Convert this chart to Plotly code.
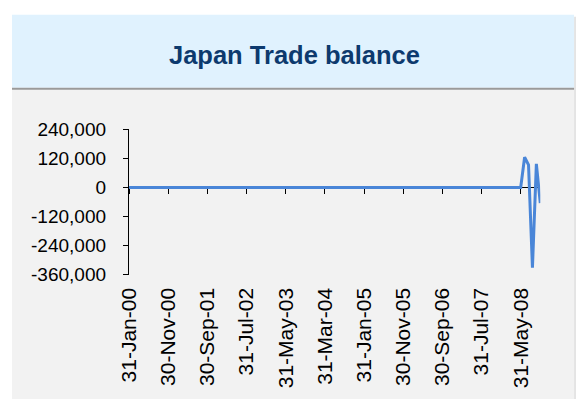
import plotly.graph_objects as go
import pandas as pd

# Categories: month-end dates Jan-2000 .. Oct-2008
months = [d.strftime("%d-%b-%y") for d in pd.date_range("2000-01-31", "2008-10-31", freq="ME")]

# Trade balance values (zeros until May-08, then readings)
values = [0] * 101 + [124600, 93200, -331400, 97100, -64100]

tick_labels = ["31-Jan-00", "30-Nov-00", "30-Sep-01", "31-Jul-02", "31-May-03",
               "31-Mar-04", "31-Jan-05", "30-Nov-05", "30-Sep-06", "31-Jul-07", "31-May-08"]
y_ticks = [240000, 120000, 0, -120000, -240000, -360000]
y_tick_text = ["240,000", "120,000", "0", "-120,000", "-240,000", "-360,000"]

W, H = 577, 410
def py(p):
    return 1 - p / H
def px(p):
    return p / W

x_dom = [px(119.5), px(539.5)]
y_dom = [py(279), py(125.7)]
y_range = [-360000, 240000]
zero_pos = y_dom[0] + (0 - y_range[0]) / (y_range[1] - y_range[0]) * (y_dom[1] - y_dom[0])

fig = go.Figure()
# invisible trace to populate the label axis
fig.add_trace(go.Scatter(x=months, y=values, mode="lines", line=dict(width=0, color="rgba(0,0,0,0)"),
                         hoverinfo="skip", showlegend=False, xaxis="x", yaxis="y"))
fig.add_trace(go.Scatter(x=months, y=values, mode="lines", line=dict(color="#4A86D8", width=3),
                         showlegend=False, xaxis="x2", yaxis="y"))

fam = "Arial, Liberation Sans, sans-serif"
yfont = dict(family=fam, size=19, color="#000000")
xfont = dict(family=fam, size=21, color="#000000")

fig.update_layout(
    width=W, height=H,
    margin=dict(l=0, r=0, t=0, b=0),
    paper_bgcolor="#FFFFFF",
    plot_bgcolor="rgba(0,0,0,0)",
    font=yfont,
    xaxis=dict(domain=x_dom, type="category", range=[0, len(months) - 1],
               tickmode="array", tickvals=tick_labels, ticktext=tick_labels,
               tickangle=-90, showline=False, ticks="", showgrid=False, zeroline=False,
               tickfont=xfont, ticklabelstandoff=8),
    xaxis2=dict(domain=x_dom, type="category", range=[0, len(months) - 1], overlaying="x",
                anchor="free", position=zero_pos, tickmode="array", tickvals=tick_labels,
                showticklabels=False, showline=True, linecolor="#000000", linewidth=1.3,
                ticks="outside", ticklen=5, tickwidth=1.3, tickcolor="#000000",
                showgrid=False, zeroline=False, layer="below traces"),
    yaxis=dict(domain=y_dom, range=y_range, tickmode="array", tickvals=y_ticks,
               ticktext=y_tick_text, showline=True, linecolor="#000000", linewidth=1.3,
               ticks="outside", ticklen=5, tickwidth=1.3, tickcolor="#000000",
               showgrid=False, zeroline=False, tickfont=yfont, ticklabelstandoff=13),
    shapes=[
        dict(type="rect", xref="paper", yref="paper", x0=0, x1=px(574), y0=0, y1=py(83),
             fillcolor="#F2F2F2", line=dict(width=0), layer="below"),
        dict(type="rect", xref="paper", yref="paper", x0=px(574), x1=px(576), y0=0, y1=py(7),
             fillcolor="#E4E4E4", line=dict(width=0), layer="below"),
        dict(type="rect", xref="paper", yref="paper", x0=0, x1=px(574), y0=py(82), y1=py(5),
             fillcolor="#E0F2FE", line=dict(width=0), layer="below"),
        dict(type="rect", xref="paper", yref="paper", x0=0, x1=px(574), y0=py(84), y1=py(82),
             fillcolor="#9A9A9A", line=dict(width=0), layer="below"),
    ],
    annotations=[
        dict(text="<b>Japan Trade balance</b>", xref="paper", yref="paper", x=px(288), y=py(47),
             xanchor="center", yanchor="middle", showarrow=False,
             font=dict(family=fam, size=25.5, color="#0D3A6E")),
    ],
)

fig.write_html("out.html", config={"displayModeBar": False},
               post_script="document.body.style.margin='0';document.body.style.overflow='hidden';")
